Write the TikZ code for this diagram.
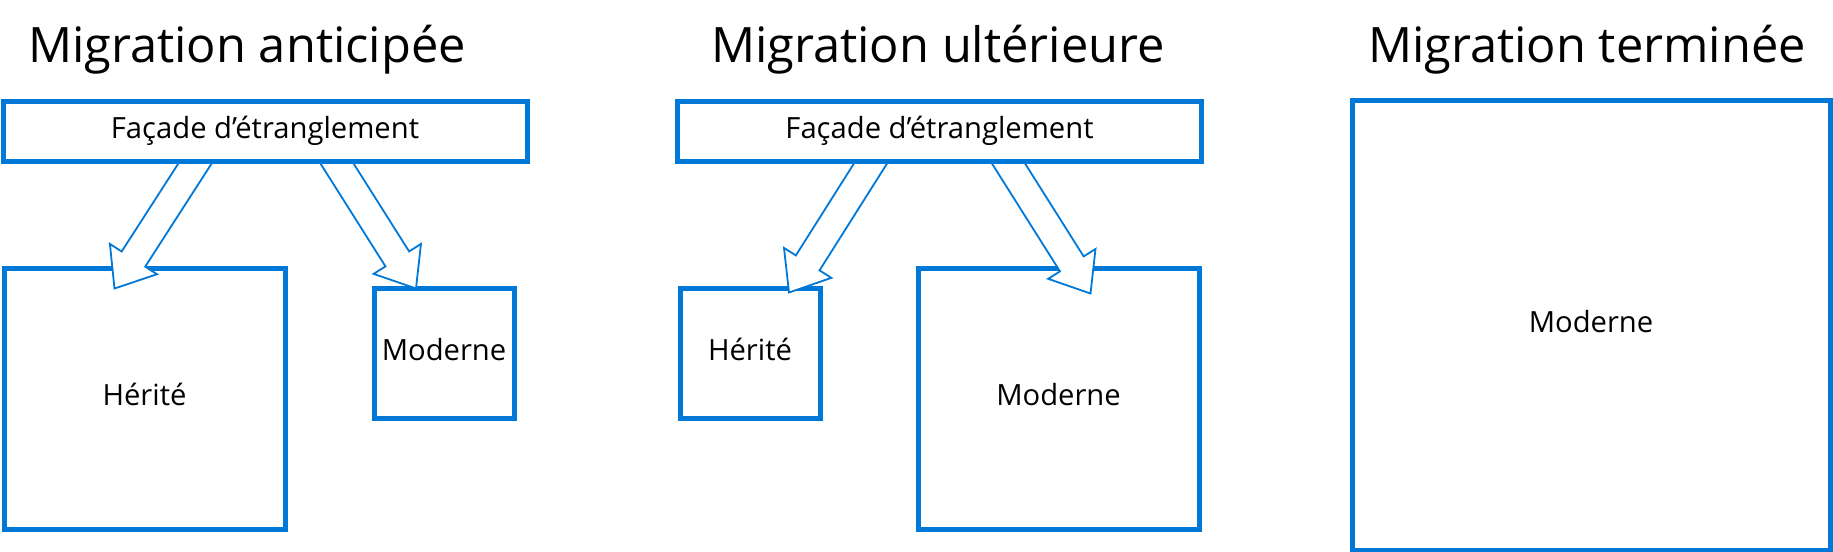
\documentclass[tikz,border=0pt]{standalone}
\usepackage{fontspec}
\setmainfont{Open Sans}
\usetikzlibrary{calc,backgrounds}
\definecolor{msblue}{HTML}{0078D7}

% hollow block arrow from #1 (tail on the facade) to #2 (tip)
\newcommand{\fatarrow}[2]{%
    \coordinate (fa-b) at (#1);
    \coordinate (fa-t) at (#2);
    \coordinate (fa-s) at ($(fa-t)!1.25!(fa-b)$);
    \coordinate (fa-n) at ($(fa-t)!17.5pt!(fa-s)$);
    \draw[bigarrow] ($(fa-s)!7pt!90:(fa-t)$) -- ($(fa-n)!7pt!90:(fa-t)$)
        -- ($(fa-n)!14pt!90:(fa-t)$) -- (fa-t) -- ($(fa-n)!14pt!-90:(fa-t)$)
        -- ($(fa-n)!7pt!-90:(fa-t)$) -- ($(fa-s)!7pt!-90:(fa-t)$) -- cycle;
}

\begin{document}
\begin{tikzpicture}[x=0.5pt,y=-0.5pt,
    title/.style={font=\fontsize{24.4}{29}\selectfont,anchor=base},
    box/.style={draw=msblue,line width=2.5pt,fill=white,inner sep=0pt,
        font=\fontsize{14.6}{17}\selectfont,text height=0.714em,text depth=0pt},
    facade/.style={box,minimum width=262pt,minimum height=30pt},
    bigbox/.style={box,minimum width=140.5pt,minimum height=130.5pt},
    smallbox/.style={box,minimum width=70pt,minimum height=65pt},
    bigarrow/.style={draw=msblue,line width=0.9pt,fill=white,line join=miter}
]
    \useasboundingbox (0,0) rectangle (1833,552);

    \node[title] (early) at (247,62) {Migration anticipée};
    \node[title] (late) at (938,62) {Migration ultérieure};
    \node[title] (done) at (1587,62) {Migration terminée};

    \node[facade] (fac1) at (265,131) {Façade d’étranglement};
    \node[facade] (fac2) at (939.5,131) {Façade d’étranglement};
    \node[box,minimum width=239pt,minimum height=225pt] (mod3) at (1591,325) {Moderne};

    \begin{scope}[on background layer]
        \node[bigbox] (her1) at (144.5,398.5) {Hérité};
        \node[smallbox] (mod1) at (444,353) {Moderne};
        \node[smallbox] (her2) at (750,353) {Hérité};
        \node[bigbox] (mod2) at (1058.5,398.5) {Moderne};
        %arrows go over the boxes, under the facades
        \fatarrow{$(fac1.south)+(-70,0)$}{$(her1.north west)+(113,23)$}
        \fatarrow{$(fac1.south)+(72,0)$}{$(mod1.north)+(-28,3)$}
        \fatarrow{$(fac2.south)+(-69,0)$}{$(her2.north)+(39,7)$}
        \fatarrow{$(fac2.south)+(69,0)$}{$(mod2.north)+(32,28)$}
    \end{scope}
\end{tikzpicture}
\end{document}
